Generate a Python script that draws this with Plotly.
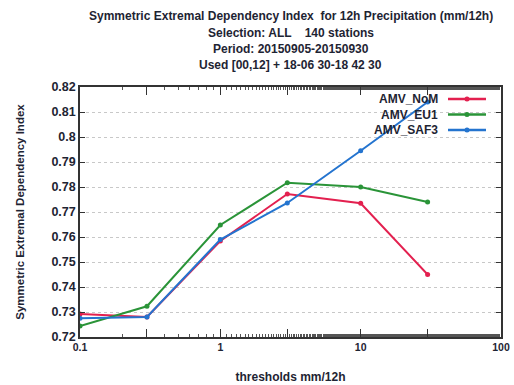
import plotly.graph_objects as go

# Thresholds (mm/12h) and SEDI scores per AMV experiment
thresholds = [0.1, 0.3, 1, 3, 10, 30]
sedi_nom = [0.7292, 0.7280, 0.7584, 0.7772, 0.7735, 0.7450]
sedi_eu1 = [0.7244, 0.7323, 0.7648, 0.7817, 0.7800, 0.7740]
sedi_saf3 = [0.7275, 0.7280, 0.7590, 0.7736, 0.7945, 0.8140]

series_names = ["AMV_NoM", "AMV_EU1", "AMV_SAF3"]
series_colors = ["#e3204f", "#2a9438", "#2474cf"]
series_values = [sedi_nom, sedi_eu1, sedi_saf3]

x_tickvals = [0.1, 0.3, 1, 3, 10, 30, 100]
x_ticktext = ["0.1", "", "1", "", "10", "", "100"]
y_tickvals = [0.72, 0.73, 0.74, 0.75, 0.76, 0.77, 0.78, 0.79, 0.80, 0.81, 0.82]
y_ticktext = ["0.72", "0.73", "0.74", "0.75", "0.76", "0.77", "0.78", "0.79", "0.8", "0.81", "0.82"]

title_lines = [
    "Symmetric Extremal Dependency Index  for 12h Precipitation (mm/12h)",
    "Selection: ALL    140 stations",
    "Period: 20150905-20150930",
    "Used [00,12] + 18-06 30-18 42 30",
]

W, H = 514, 385
L, R, T, B = 80, 13, 87, 48
FONT = "Liberation Sans"
TXT = "#1e2433"

plot_w = W - L - R
plot_h = H - T - B

def paper_x(px):
    return (px - L) / plot_w

def paper_y(px):
    return (H - B - px) / plot_h

fig = go.Figure()
for name, vals, color in zip(series_names, series_values, series_colors):
    fig.add_trace(go.Scatter(
        x=thresholds, y=vals, name=name, mode="lines+markers",
        line=dict(color=color, width=2),
        marker=dict(color=color, size=5),
        showlegend=False,
    ))

annotations = []
shapes = []
for i, line in enumerate(title_lines):
    annotations.append(dict(
        text=line, xref="paper", yref="paper", x=0.5, y=paper_y(16 + i * 16.5),
        xanchor="center", yanchor="middle", showarrow=False,
        font=dict(family=FONT, size=12, color=TXT, weight="bold"),
    ))

# Key: label on the left, line sample with a dot on the right
for i, (name, color) in enumerate(zip(series_names, series_colors)):
    ry = paper_y(99 + i * 15.5)
    annotations.append(dict(
        text=name, xref="paper", yref="paper", x=paper_x(440), y=ry,
        xanchor="right", yanchor="middle", showarrow=False,
        font=dict(family=FONT, size=12, color=TXT, weight="bold"),
    ))
    shapes.append(dict(
        type="line", xref="paper", yref="paper",
        x0=paper_x(448), x1=paper_x(486), y0=ry, y1=ry,
        line=dict(color=color, width=2.5),
    ))
    cx, cy = paper_x(467), ry
    rx, rr = 2.5 / plot_w, 2.5 / plot_h
    shapes.append(dict(
        type="circle", xref="paper", yref="paper",
        x0=cx - rx, x1=cx + rx, y0=cy - rr, y1=cy + rr,
        fillcolor=color, line=dict(color=color, width=0),
    ))

fig.update_layout(
    width=W, height=H,
    margin=dict(l=L, r=R, t=T, b=B),
    paper_bgcolor="white", plot_bgcolor="white",
    font=dict(family=FONT, size=11, color=TXT),
    annotations=annotations,
    shapes=shapes,
    showlegend=False,
    xaxis=dict(
        type="log", range=[-1, 2], automargin=False,
        tickvals=x_tickvals, ticktext=x_ticktext,
        ticks="inside", ticklen=8, tickcolor="#333",
        minor=dict(ticks="inside", ticklen=3, tickcolor="#555", showgrid=False),
        showline=True, linecolor="#333", linewidth=1.5, mirror="ticks",
        showgrid=False, zeroline=False,
        title=dict(text="thresholds mm/12h", font=dict(size=12, weight="bold"), standoff=20),
        tickfont=dict(size=10.5, weight="bold"),
    ),
    yaxis=dict(
        range=[0.72, 0.82], automargin=False,
        tickvals=y_tickvals, ticktext=y_ticktext,
        ticks="inside", ticklen=5, tickcolor="#333",
        showline=True, linecolor="#333", linewidth=1.5, mirror="ticks",
        showgrid=True, gridcolor="#c8c8c8", griddash="dot", gridwidth=1,
        zeroline=False,
        title=dict(text="Symmetric Extremal Dependency Index", font=dict(size=11.5, weight="bold"), standoff=24),
        tickfont=dict(size=12.5, weight="bold"),
    ),
)

fig.write_html("out.html")
